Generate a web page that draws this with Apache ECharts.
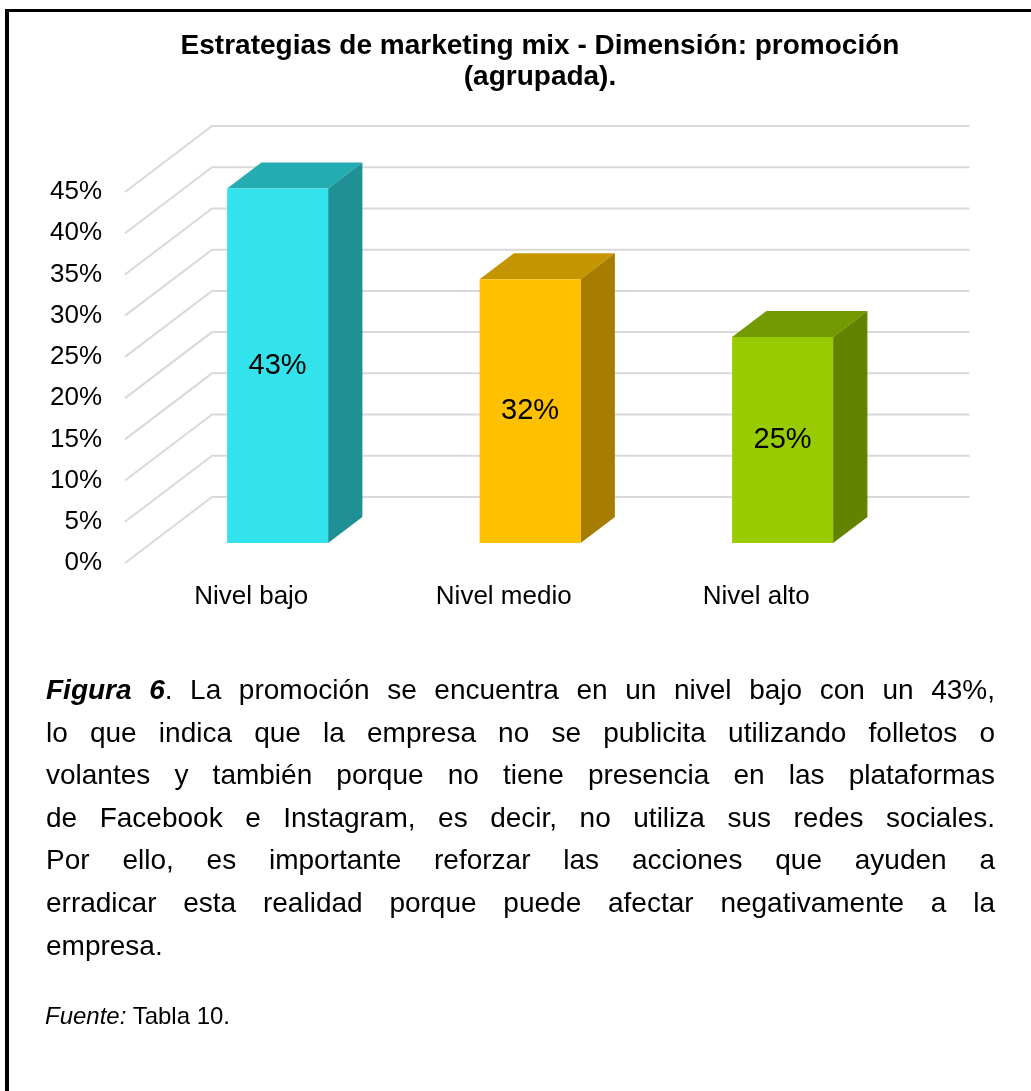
<!DOCTYPE html>
<html>
<head>
<meta charset="utf-8">
<script src="https://cdn.jsdelivr.net/npm/echarts@6/dist/echarts.min.js"></script>
<style>
  html, body { margin: 0; padding: 0; background: #fff; }
  #chart { position: absolute; left: 0; top: 0; width: 1031px; height: 1091px; }
  .cap { position: absolute; left: 46px; width: 949px; font-family: "Liberation Sans", Arial, sans-serif; color: #000; }
  .para div { font-size: 28px; line-height: 42.6px; height: 42.6px; text-align: justify; text-align-last: justify; white-space: nowrap; }
  .para div.last { text-align-last: left; }
  .para { top: 669px; }
  .src { top: 1002px; left: 45px; font-size: 24px; line-height: 28px; }
</style>
</head>
<body>
<div id="chart"></div>
<div class="cap para">
  <div><b><i>Figura 6</i></b>. La promoción se encuentra en un nivel bajo con un 43%,</div>
  <div>lo que indica que la empresa no se publicita utilizando folletos o</div>
  <div>volantes y también porque no tiene presencia en las plataformas</div>
  <div>de Facebook e Instagram, es decir, no utiliza sus redes sociales.</div>
  <div>Por ello, es importante reforzar las acciones que ayuden a</div>
  <div>erradicar esta realidad porque puede afectar negativamente a la</div>
  <div class="last">empresa.</div>
</div>
<div class="cap src"><i>Fuente:</i> Tabla 10.</div>
<script>
// ---- data ----
var titleText = 'Estrategias de marketing mix - Dimensión: promoción\n(agrupada).';
var categories = ['Nivel bajo', 'Nivel medio', 'Nivel alto'];
var values = [0.43, 0.32, 0.25];
var valueLabels = ['43%', '32%', '25%'];
var yTicks = [0, 0.05, 0.10, 0.15, 0.20, 0.25, 0.30, 0.35, 0.40, 0.45];

// ---- styles ----
var FONT = '"Liberation Sans", Arial, sans-serif';
var faceColors = [
  { front: '#33E3EB', top: '#23ADB3', side: '#1F9094' },
  { front: '#FFC000', top: '#C49500', side: '#A67D00' },
  { front: '#99CC00', top: '#739A00', side: '#638200' }
];
var DEPTH_X = 87, DEPTH_Y = -66;          // full floor depth
var BAR_F = 20 / 66, BAR_B = 46 / 66;      // bar front/back depth fraction
var BAR_W = 0.4;                           // bar width fraction of band

var chart = echarts.init(document.getElementById('chart'), null, { renderer: 'canvas' });

var barData = values.map(function (v, i) { return [i, v]; });
var gridData = yTicks.map(function (v) { return [0, v]; });

var option = {
  animation: false,
  backgroundColor: '#fff',
  title: {
    text: titleText,
    left: 535,
    top: 26,
    textAlign: 'center',
    textStyle: { fontFamily: FONT, fontSize: 28, fontWeight: 'bold', color: '#000', lineHeight: 31 }
  },
  grid: { left: 125, top: 192, width: 757.5, height: 371, containLabel: false },
  xAxis: {
    type: 'category',
    data: categories,
    axisLine: { show: false },
    axisTick: { show: false },
    axisLabel: { fontFamily: FONT, fontSize: 26, color: '#000', margin: 21 }
  },
  yAxis: {
    type: 'value',
    min: 0, max: 0.45, interval: 0.05,
    axisLine: { show: false },
    axisTick: { show: false },
    splitLine: { show: false },
    axisLabel: {
      fontFamily: FONT, fontSize: 26, color: '#000', margin: 23,
      formatter: function (v) { return Math.round(v * 100) + '%'; }
    }
  },
  graphic: [
    { type: 'rect', shape: { x: 5, y: 9, width: 4, height: 1082 }, style: { fill: '#000' }, z: 100 },
    { type: 'rect', shape: { x: 5, y: 9, width: 1026, height: 3 }, style: { fill: '#000' }, z: 100 }
  ],
  series: [
    {
      type: 'custom',
      data: gridData,
      silent: true,
      z: 1,
      renderItem: function (params, api) {
        var cs = params.coordSys;
        var y = api.coord([0, api.value(1)])[1];
        var x0 = cs.x, x1 = cs.x + cs.width;
        return {
          type: 'polyline',
          shape: { points: [[x0, y], [x0 + DEPTH_X, y + DEPTH_Y], [x1 + DEPTH_X, y + DEPTH_Y]] },
          style: { stroke: '#D9D9D9', lineWidth: 2, fill: null }
        };
      }
    },
    {
      type: 'custom',
      data: barData,
      z: 2,
      renderItem: function (params, api) {
        var i = api.value(0), v = api.value(1);
        var base = api.coord([i, 0]);
        var top = api.coord([i, v]);
        var band = api.size([1, 0])[0];
        var w = band * BAR_W;
        var fx = DEPTH_X * BAR_F, fy = DEPTH_Y * BAR_F;
        var bx = DEPTH_X * BAR_B, by = DEPTH_Y * BAR_B;
        var xl = base[0] - w / 2 + fx, xr = base[0] + w / 2 + fx;
        var yb = base[1] + fy, yt = top[1] + fy;
        var dx = bx - fx, dy = by - fy;
        var c = faceColors[params.dataIndex];
        return {
          type: 'group',
          children: [
            { type: 'polygon', shape: { points: [[xl, yt], [xr, yt], [xr + dx, yt + dy], [xl + dx, yt + dy]] }, style: { fill: c.top } },
            { type: 'polygon', shape: { points: [[xr, yt], [xr + dx, yt + dy], [xr + dx, yb + dy], [xr, yb]] }, style: { fill: c.side } },
            { type: 'rect', shape: { x: xl, y: yt, width: xr - xl, height: yb - yt }, style: { fill: c.front } },
            { type: 'text', style: { x: (xl + xr) / 2, y: (yt + yb) / 2, text: valueLabels[params.dataIndex], align: 'center', verticalAlign: 'middle', fontFamily: FONT, fontSize: 29, fill: '#000' } }
          ]
        };
      }
    }
  ]
};
chart.setOption(option);
</script>
</body>
</html>
